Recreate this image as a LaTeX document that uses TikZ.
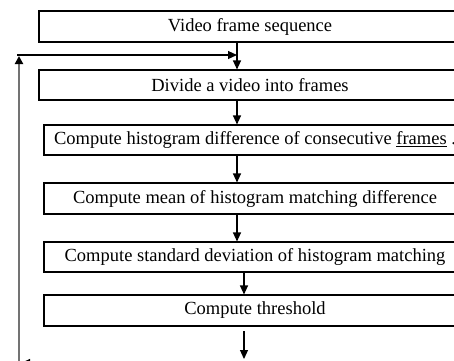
\documentclass[tikz,border=0pt]{standalone}
\usepackage{fontspec}
\setmainfont{Liberation Serif}
\usetikzlibrary{arrows.meta}
\begin{document}
\begin{tikzpicture}[x=1pt,y=-1pt,
  stepbox/.style={draw=black,line width=1.1pt,minimum width=422pt,inner sep=0pt,
    font=\fontsize{18.5}{20}\selectfont},
  arr/.style={draw=black,line width=1.1pt,-{Triangle[width=8pt,length=9pt]}},
  garr/.style={draw=black!55,line width=2.6pt,-{Triangle[width=8pt,length=8pt,color=black]}}]
\useasboundingbox (0,0) rectangle (454,360);
\fill[white] (0,0) rectangle (454,360);
\clip (0,0) rectangle (454,360);
\node[stepbox,minimum height=31pt] (b1) at (250,26.5) {Video frame sequence};
\node[stepbox,minimum height=30pt] (b2) at (250,85) {Divide a video into frames};
\node[stepbox,minimum height=30pt] (b3) at (255,140) {Compute histogram difference of consecutive \underline{frames} .};
\node[stepbox,minimum height=31pt] (b4) at (255,198.5) {Compute mean of histogram matching difference};
\node[stepbox,minimum height=30pt] (b5) at (255,257) {Compute standard deviation of histogram matching};
\node[stepbox,minimum height=31pt] (b6) at (255,310.5) {Compute threshold};
\coordinate (xa) at (237,0);
\coordinate (xb) at (244,0);
\coordinate (out1) at (244,331);
\coordinate (out2) at (244,359);
\coordinate (fbbot) at (19,362);
\coordinate (fbtop) at (19,56);
\coordinate (fbl) at (17,55);
\coordinate (fbr) at (237,55);
\coordinate (inr) at (110,363);
\coordinate (inl) at (21,363);
\draw[arr] (b1.south -| xa) -- (b2.north -| xa);
\draw[arr] (b2.south -| xa) -- (b3.north -| xa);
\draw[arr] (b3.south -| xa) -- (b4.north -| xa);
\draw[arr] (b4.south -| xa) -- (b5.north -| xa);
\draw[arr] (b5.south -| xb) -- (b6.north -| xb);
\draw[arr] (out1) -- (out2);
\draw[garr] (fbbot) -- (fbtop);
\draw[arr] (fbl) -- (fbr);
\draw[arr] (inr) -- (inl);
\end{tikzpicture}
\end{document}
